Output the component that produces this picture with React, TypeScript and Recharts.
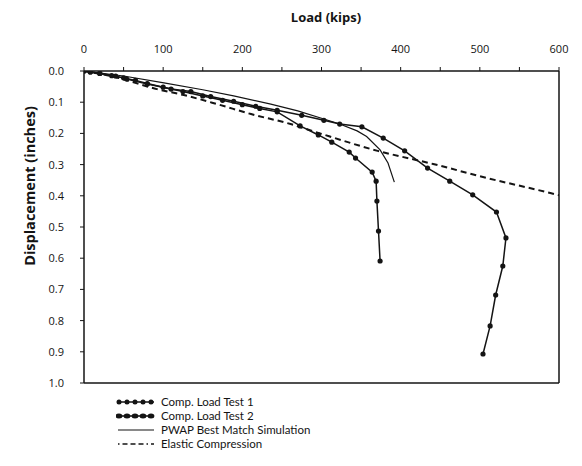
import { LineChart, Line, XAxis, YAxis, ReferenceLine } from "recharts";

// values
const test1Load = [0, 8, 20, 35, 50, 65, 80, 100, 125, 150, 175, 200, 222, 244, 273, 296, 313, 335, 343, 364, 369, 370, 372, 374];
const test1Disp = [0, 0.003, 0.008, 0.015, 0.022, 0.03, 0.04, 0.052, 0.066, 0.08, 0.094, 0.108, 0.12, 0.131, 0.176, 0.205, 0.228, 0.26, 0.279, 0.324, 0.353, 0.417, 0.513, 0.609];

const test2Load = [0, 8, 20, 40, 54, 80, 110, 135, 160, 189, 217, 244, 275, 303, 323, 351, 378, 405, 434, 462, 491, 521, 533, 529, 520, 513, 504];
const test2Disp = [0, 0.003, 0.008, 0.016, 0.026, 0.042, 0.058, 0.066, 0.082, 0.097, 0.113, 0.126, 0.142, 0.158, 0.17, 0.179, 0.215, 0.256, 0.311, 0.353, 0.397, 0.452, 0.535, 0.625, 0.718, 0.817, 0.907];

const pwapLoad = [0, 50, 101, 150, 189, 236, 270, 303, 323, 345, 357, 374, 384, 392];
const pwapDisp = [0, 0.016, 0.038, 0.06, 0.08, 0.106, 0.128, 0.154, 0.17, 0.192, 0.21, 0.253, 0.295, 0.356];

const elasticLoad = [0, 40, 92, 126, 168, 211, 261, 298, 371, 441, 509, 589, 600];
const elasticDisp = [0, 0.02, 0.058, 0.077, 0.106, 0.138, 0.17, 0.2, 0.256, 0.298, 0.343, 0.391, 0.398];

const loadTicks = [0, 50, 100, 150, 200, 250, 300, 350, 400, 450, 500, 550, 600];
const dispTicks = [0, 0.1, 0.2, 0.3, 0.4, 0.5, 0.6, 0.7, 0.8, 0.9, 1.0];

const legendNames = [
  "Comp. Load Test 1",
  "Comp. Load Test 2",
  "PWAP Best Match Simulation",
  "Elastic Compression",
];

const pairs = (xs: number[], ys: number[]) => xs.map((load, i) => ({ load, disp: ys[i] }));

const ink = "#141414";
const font = "'Open Sans', sans-serif";

function LegendMark({ kind }: { kind: number }) {
  if (kind < 2) {
    return (
      <svg width={40} height={10}>
        <line x1={2} y1={5} x2={38} y2={5} stroke={ink} strokeWidth={1.5} />
        {[3, 11, 19, 27, 35].map((cx) => (
          <ellipse key={cx} cx={cx} cy={5} rx={kind === 0 ? 2.5 : 3.4} ry={2.5} fill={ink} />
        ))}
      </svg>
    );
  }
  if (kind === 2) {
    return (
      <svg width={40} height={10}>
        <line x1={2} y1={5} x2={38} y2={5} stroke={ink} strokeWidth={1.2} />
      </svg>
    );
  }
  return (
    <svg width={40} height={10}>
      <line x1={2} y1={5} x2={38} y2={5} stroke={ink} strokeWidth={1.6} strokeDasharray="1.5 3 5 3 5 3 5 3" />
    </svg>
  );
}

export default function App() {
  return (
    <div style={{ position: "absolute", left: 0, top: 0, width: 582, height: 466, background: "#fff", fontFamily: font }}>
      <LineChart width={582} height={466} margin={{ top: 41, right: 23, bottom: 83, left: 0 }}>
        <XAxis
          type="number"
          dataKey="load"
          orientation="top"
          domain={[0, 600]}
          ticks={loadTicks}
          tickFormatter={(v: number) => (v % 100 === 0 ? String(v) : "")}
          height={30}
          tickSize={4}
          tickMargin={14}
          axisLine={{ stroke: ink, strokeWidth: 1.5 }}
          tickLine={{ stroke: ink }}
          tick={{ fontSize: 11, fill: ink, fontFamily: font }}
          allowDataOverflow
        />
        <YAxis
          type="number"
          dataKey="disp"
          reversed
          domain={[0, 1]}
          ticks={dispTicks}
          tickFormatter={(v: number) => v.toFixed(1)}
          width={84}
          tickSize={4}
          tickMargin={16}
          axisLine={{ stroke: ink, strokeWidth: 1.5 }}
          tickLine={{ stroke: ink }}
          tick={{ fontSize: 11, fill: ink, fontFamily: font }}
          allowDataOverflow
        />
        <ReferenceLine x={600} stroke={ink} strokeWidth={1.5} />
        <ReferenceLine y={1} stroke={ink} strokeWidth={1.5} />
        <Line
          data={pairs(elasticLoad, elasticDisp)}
          dataKey="disp"
          type="monotone"
          stroke={ink}
          strokeWidth={2}
          strokeDasharray="6 4"
          dot={false}
          isAnimationActive={false}
        />
        <Line
          data={pairs(pwapLoad, pwapDisp)}
          dataKey="disp"
          type="linear"
          stroke={ink}
          strokeWidth={1.2}
          dot={false}
          isAnimationActive={false}
        />
        <Line
          data={pairs(test1Load, test1Disp)}
          dataKey="disp"
          type="linear"
          stroke={ink}
          strokeWidth={1.5}
          dot={{ r: 2.6, fill: ink, stroke: ink, strokeWidth: 0 }}
          isAnimationActive={false}
        />
        <Line
          data={pairs(test2Load, test2Disp)}
          dataKey="disp"
          type="linear"
          stroke={ink}
          strokeWidth={1.5}
          dot={{ r: 2.6, fill: ink, stroke: ink, strokeWidth: 0 }}
          isAnimationActive={false}
        />
      </LineChart>
      <div style={{ position: "absolute", left: 266, top: 8, width: 120, textAlign: "center", fontSize: 13, fontWeight: 700, color: ink }}>
        Load (kips)
      </div>
      <div
        style={{
          position: "absolute",
          left: 29,
          top: 186,
          transform: "translate(-50%, -50%) rotate(-90deg)",
          whiteSpace: "nowrap",
          fontSize: 14.5,
          fontWeight: 700,
          color: ink,
        }}
      >
        Displacement (inches)
      </div>
      <div style={{ position: "absolute", left: 116, top: 395 }}>
        {legendNames.map((name, i) => (
          <div key={name} style={{ display: "flex", alignItems: "center", height: 14 }}>
            <LegendMark kind={i} />
            <span style={{ marginLeft: 5, fontSize: 11.5, fontFamily: "Lato, sans-serif", color: ink, lineHeight: "14px" }}>
              {name}
            </span>
          </div>
        ))}
      </div>
    </div>
  );
}
